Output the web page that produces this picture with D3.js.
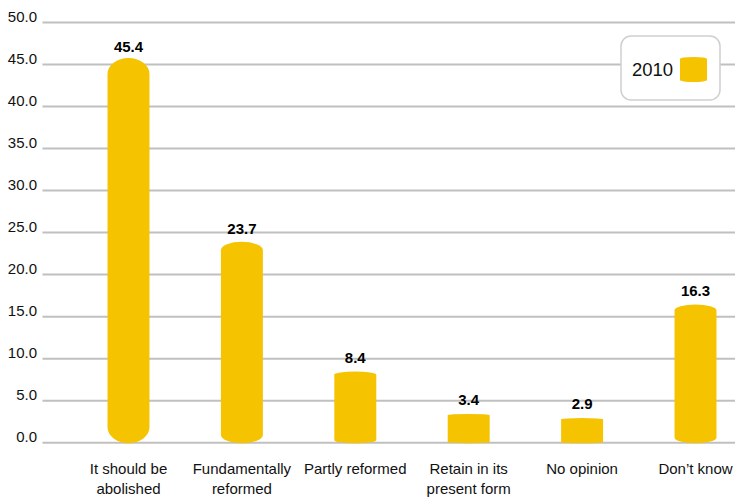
<!DOCTYPE html>
<html><head><meta charset="utf-8">
<script src="https://cdn.jsdelivr.net/npm/d3@7/dist/d3.min.js"></script>
<style>body{margin:0;background:#fff}svg{display:block}</style>
</head><body>
<svg id="c" width="735" height="498"></svg>
<script>
const categories = [["It should be","abolished"],["Fundamentally","reformed"],["Partly reformed"],["Retain in its","present form"],["No opinion"],["Don\u2019t know"]];
const values2010 = [45.4, 23.7, 8.4, 3.4, 2.9, 16.3];
const yTicks = [0,5,10,15,20,25,30,35,40,45,50];
const seriesName = "2010";

const svg = d3.select("#c");
const W = 735, H = 498;
const color = "#F6C300";
const font = "Liberation Sans, Arial, sans-serif";
const y = d3.scaleLinear().domain([0,50]).range([442.7,22.5]);
const x = d3.scaleBand().domain(d3.range(categories.length)).range([71.8,752.2]).paddingInner(0.63).paddingOuter(0.315);

// gridlines
svg.append("g").selectAll("line").data(yTicks).join("line")
  .attr("x1",42.5).attr("x2",W).attr("y1",d=>y(d)).attr("y2",d=>y(d))
  .attr("stroke","#c0c0c0").attr("stroke-width",2);

// y labels
svg.append("g").selectAll("text").data(yTicks).join("text")
  .attr("x",37).attr("y",d=>y(d)-1).attr("text-anchor","end")
  .attr("font-family",font).attr("font-size",15).attr("fill","#111")
  .text(d=>d.toFixed(1));

function cyl(x0,w,top,bottom,ry){
  const rx=w/2;
  return `M${x0},${top+ry} A${rx},${ry} 0 0 1 ${x0+w},${top+ry} L${x0+w},${bottom-ry} A${rx},${ry} 0 0 1 ${x0},${bottom-ry} Z`;
}

const bars = svg.append("g");
values2010.forEach((v,i)=>{
  const top=y(v), bot=y(0)+0.5, h=bot-top;
  const ry=Math.max(1,h*0.042);
  bars.append("path").attr("d",cyl(x(i),x.bandwidth(),top-ry*0.2,bot,ry)).attr("fill",color);
  bars.append("text").attr("x",x(i)+x.bandwidth()/2).attr("y",top-9.5).attr("text-anchor","middle")
    .attr("font-family",font).attr("font-size",15).attr("font-weight","bold").attr("fill","#000")
    .text(v.toFixed(1));
});

// category labels
const cl = svg.append("g");
categories.forEach((lines,i)=>{
  const cx = x(i)+x.bandwidth()/2;
  const t = cl.append("text").attr("x",cx).attr("y",474).attr("text-anchor","middle")
    .attr("font-family",font).attr("font-size",15).attr("fill","#111");
  lines.forEach((l,j)=>t.append("tspan").attr("x",cx).attr("dy",j===0?0:20).text(l));
});

// legend
const lg = svg.append("g");
lg.append("rect").attr("x",621).attr("y",36).attr("width",99).attr("height",64).attr("rx",10)
  .attr("fill","#fff").attr("stroke","#cfcfcf").attr("stroke-width",1.5);
lg.append("text").attr("x",632).attr("y",76).attr("font-family",font)
  .attr("font-size",18.5).attr("fill","#111").text(seriesName);
lg.append("path").attr("d",cyl(680,27,57,82,2)).attr("fill",color);
</script>
</body></html>
